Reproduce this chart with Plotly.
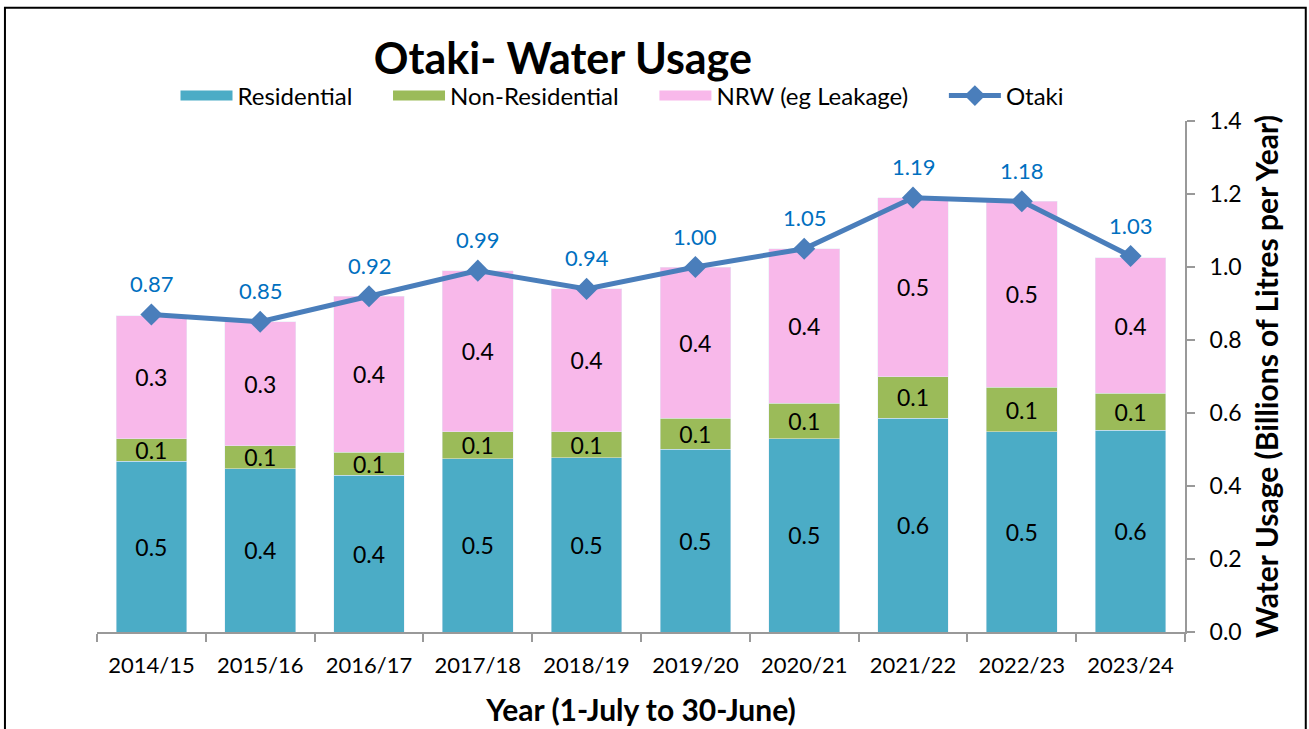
import plotly.graph_objects as go

years = ["2014/15", "2015/16", "2016/17", "2017/18", "2018/19",
         "2019/20", "2020/21", "2021/22", "2022/23", "2023/24"]
residential = [0.468, 0.447, 0.430, 0.474, 0.477, 0.501, 0.529, 0.586, 0.548, 0.553]
non_residential = [0.061, 0.063, 0.063, 0.074, 0.071, 0.085, 0.098, 0.113, 0.123, 0.101]
nrw = [0.337, 0.340, 0.427, 0.442, 0.392, 0.414, 0.423, 0.491, 0.509, 0.371]
otaki = [0.87, 0.85, 0.92, 0.99, 0.94, 1.00, 1.05, 1.19, 1.18, 1.03]

FONT = "Lato"
NB = "\u00a0"
series = [("Residential", residential, "#4BACC6"),
          ("Non-Residential", non_residential, "#9BBB59"),
          ("NRW (eg Leakage)", nrw, "#F8B8EA")]

fig = go.Figure()
for name, vals, col in series:
    fig.add_trace(go.Bar(
        x=years, y=vals, name=name, marker_color=col, legendgroup=name,
        showlegend=False,
        text=[f"{v:.1f}" for v in vals], texttemplate="%{text}",
        textposition="inside", insidetextanchor="middle", constraintext="none",
        textfont=dict(size=23, color="black", family=FONT),
        hoverinfo="skip",
    ))
# legend swatches (wide rectangles like the reference)
for name, vals, col in series:
    fig.add_trace(go.Scatter(
        x=[years[0]], y=[None], name=name + NB * 5, legendgroup=name, mode="lines",
        line=dict(color=col, width=14), hoverinfo="skip",
    ))

fig.add_trace(go.Scatter(
    x=years, y=otaki, name="Otaki", mode="lines+markers",
    line=dict(color="#4A7EBB", width=5),
    marker=dict(symbol="diamond", size=17, color="#4A7EBB"),
))
for yr, v in zip(years, otaki):
    fig.add_annotation(x=yr, y=v, text=f"{v:.2f}", showarrow=False, yshift=31,
                       font=dict(size=22, color="#0070C0", family=FONT))

fig.update_layout(
    barmode="stack", bargap=0.35,
    width=1309, height=729,
    margin=dict(l=97, r=124, t=121, b=97, autoexpand=False),
    paper_bgcolor="white", plot_bgcolor="white",
    font=dict(family=FONT, size=20, color="black"),
    title=dict(text="<b>Otaki- Water Usage</b>", x=0.43, xanchor="center",
               y=0.919, yanchor="middle", font=dict(size=43, family=FONT)),
    legend=dict(orientation="h", x=0.483, xanchor="center", y=1.049, yanchor="middle",
                font=dict(size=24, family=FONT), traceorder="normal",
                itemwidth=52, tracegroupgap=0),
    showlegend=True,
)
fig.update_xaxes(
    type="category", range=[-0.5, len(years) - 0.5],
    showline=True, linecolor="#999999", linewidth=2,
    ticks="outside", tickson="boundaries", ticklen=8, tickcolor="#999999", tickwidth=2,
    tickfont=dict(size=22, family=FONT), automargin=False, ticklabelstandoff=13,
    title=dict(text="<b>Year (1-July to 30-June)</b>", font=dict(size=30, family=FONT), standoff=23),
)
fig.update_yaxes(
    side="right", range=[0, 1.4], dtick=0.2, tickformat=".1f",
    showgrid=False, zeroline=False, automargin=False,
    showline=True, linecolor="#999999", linewidth=2,
    ticks="outside", ticklen=8, tickcolor="#999999", tickwidth=2,
    tickfont=dict(size=23, family=FONT), ticklabelstandoff=10,
    title=dict(text="<b>Water Usage (Billions of Litres per Year)</b>",
               font=dict(size=30, family=FONT), standoff=16),
)
fig.add_shape(type="rect", xref="paper", yref="paper",
              x0=-0.0846, x1=1.111, y0=-0.25, y1=1.2215,
              line=dict(color="black", width=2), fillcolor="rgba(0,0,0,0)", layer="below")

fig.write_html("out.html", config={"displayModeBar": False},
               post_script="document.body.style.margin='0';document.body.style.overflow='hidden';")
